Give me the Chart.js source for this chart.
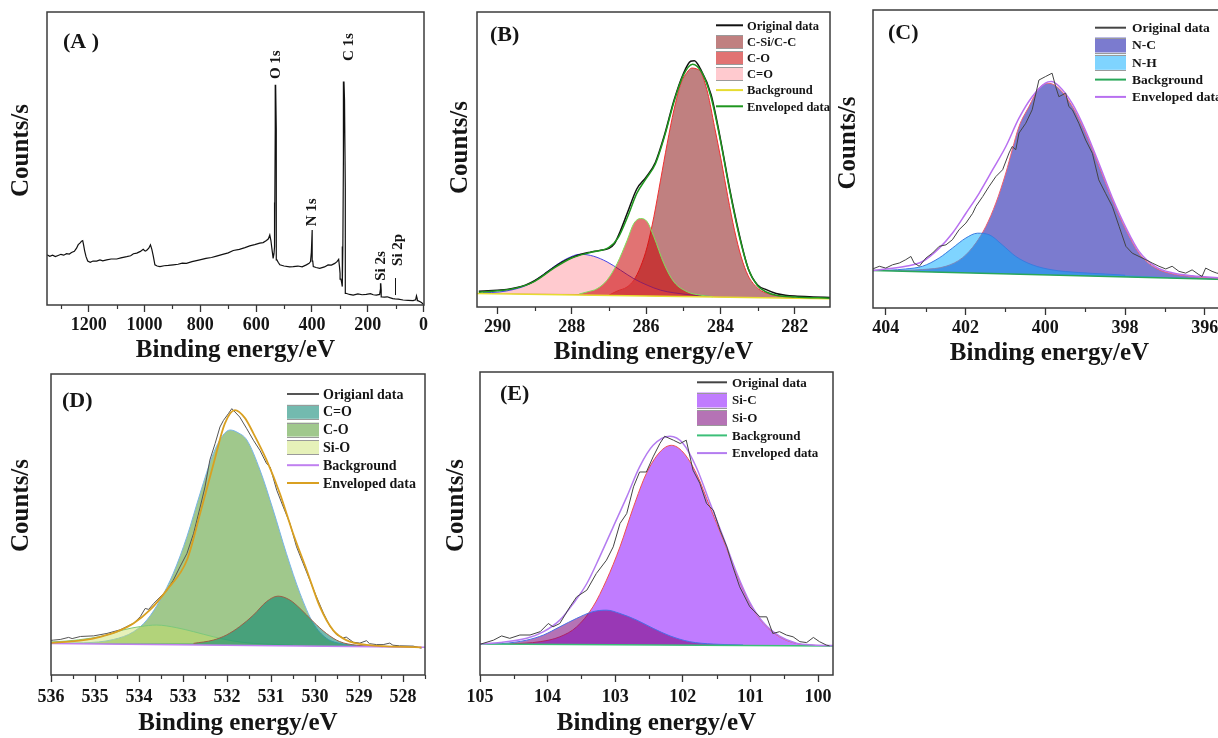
<!DOCTYPE html>
<html>
<head>
<meta charset="utf-8">
<script src="https://cdn.jsdelivr.net/npm/chart.js@4.4.1/dist/chart.umd.min.js"></script>
<style>
  html, body { margin: 0; padding: 0; background: #fff; overflow: hidden; width: 1218px; height: 738px; }
  canvas { position: absolute; }
</style>
</head>
<body>
<script>
// ---- (A) survey spectrum: [binding energy eV, counts (relative)]
const surveyCounts = [
  [1350,17.1],[1340,16.6],[1330,17.0],[1320,16.5],[1310,16.9],[1300,17.3],[1290,17.0],[1280,17.5],[1270,17.4],
  [1262,17.9],[1252,18.3],[1244,19.4],[1238,20.6],[1232,21.1],[1226,21.8],[1222,22.0],[1219,20.6],[1215,18.5],
  [1210,16.5],[1204,15.0],[1195,14.6],[1185,15.0],[1172,15.0],[1160,15.4],[1150,15.1],[1136,15.4],[1120,15.7],
  [1100,15.7],[1085,16.1],[1064,16.5],[1050,16.8],[1040,17.5],[1028,17.7],[1015,18.3],[1005,19.0],[998,18.4],
  [993,18.6],[985,19.4],[979,20.5],[974,19.0],[969,16.8],[963,13.7],[955,13.3],[945,13.1],[930,13.4],[915,13.5],
  [897,13.7],[880,13.9],[865,14.3],[850,14.2],[830,14.8],[802,15.4],[780,15.9],[760,16.2],[742,16.7],[720,17.3],
  [700,17.8],[682,18.6],[660,19.0],[640,19.6],[623,20.2],[605,20.6],[587,21.1],[575,21.3],[563,22.0],[556,22.6],
  [551,23.9],[547,22.0],[543,18.9],[539,15.9],[536,17.5],[534,19.9],[533,35],[531.5,60],[530,75.2],[528.5,60],
  [527,35],[525.5,15.4],[521,14.6],[515,13.7],[500,13.3],[480,13.0],[467,13.1],[450,13.3],[435,13.0],[420,13.7],
  [410,14.2],[405,14.8],[402,18],[399,25.6],[397,15],[395,13.1],[385,12.8],[372,12.5],[355,13.0],[342,13.7],
  [330,13.6],[318,14.2],[310,14.8],[304,15.6],[301,13.0],[299,10.8],[296,8.8],[294,8.0],[291,6.3],[289,20],
  [287,50],[285,76.3],[283,70],[281,40],[279.5,10],[278,4.0],[265,3.6],[252,3.4],[235,3.8],[220,3.5],[205,3.6],
  [190,3.9],[180,3.5],[169,3.4],[157,3.6],[154,5.5],[153,7.4],[151.5,5],[150,2.8],[140,2.7],[130,2.8],[121,2.5],
  [110,2.2],[102,2.1],[90,2.0],[73,1.7],[55,1.6],[37,1.5],[28,1.8],[25,3.1],[22,2.0],[20,1.5],[10,1.0],[4,0.6],[-1,0.1]
];
const surveyPeaks = ['O 1s', 'N 1s', 'C 1s', 'Si 2s', 'Si 2p'];
const surveyPeakEnergy = [527, 400, 267, 152, 91];

// ---- (B) C 1s
const c1sOriginal = [
  [290.5,5.3],[290.25,5.5],[290.0,5.7],[289.75,5.9],[289.5,6.5],[289.25,7.4],[289.0,8.9],[288.75,11.0],[288.5,13.3],
  [288.25,15.3],[288.0,16.8],[287.75,17.9],[287.5,18.6],[287.25,19.2],[287.0,19.9],[286.85,21.5],[286.7,25.5],
  [286.5,32.0],[286.25,40.0],[286.0,44.0],[285.75,49.0],[285.5,58.5],[285.25,70.0],[285.0,79.0],[284.8,83.3],
  [284.7,83.5],[284.55,81.0],[284.25,72.0],[284.0,57.0],[283.75,40.0],[283.5,25.0],[283.25,13.0],[283.0,7.5],
  [282.75,5.8],[282.5,4.6],[282.25,4.0],[282.0,3.7],[281.5,3.4],[281.05,3.2]
];
const c1sCC = [
  [287.0,4.0],[286.78,5.4],[286.51,6.8],[286.33,9.1],[286.15,13.6],[285.97,20.4],[285.79,30.6],[285.61,43.0],
  [285.43,55.5],[285.25,66.8],[285.06,75.9],[284.9,79.5],[284.77,81.0],[284.6,80.5],[284.53,79.8],[284.34,72.5],
  [284.16,61.2],[283.98,49.8],[283.80,37.4],[283.62,26.0],[283.44,17.0],[283.26,10.8],[282.98,6.2],[282.71,4.5],
  [282.35,3.6],[282.0,3.1]
];
const c1sCO = [
  [287.8,4.4],[287.59,5.1],[287.32,6.2],[287.05,9.1],[286.78,14.7],[286.51,22.6],[286.33,28.3],[286.15,30.0],
  [285.97,28.9],[285.79,23.8],[285.52,14.7],[285.25,8.5],[284.88,5.1],[284.53,4.0],[284.2,3.5]
];
const c1sCdO = [
  [290.39,4.8],[289.94,5.1],[289.58,5.9],[289.21,7.4],[288.85,10.2],[288.49,13.6],[288.13,16.4],[287.77,17.9],
  [287.41,17.2],[287.05,15.3],[286.69,12.5],[286.33,9.6],[285.97,7.4],[285.61,5.7],[285.25,4.8],[284.71,4.0],[284.2,3.5]
];
const c1sBackground = [[290.55,4.6],[281.05,2.8]];
const c1sEnvelope = [
  [290.5,5.0],[290.0,5.5],[289.5,6.4],[289.0,8.7],[288.5,13.0],[288.0,16.6],[287.5,18.5],[287.0,20.2],[286.75,23.5],
  [286.5,30.5],[286.25,38.5],[286.0,43.5],[285.75,48.5],[285.5,58.0],[285.25,69.5],[285.0,78.5],[284.75,82.3],
  [284.5,79.5],[284.25,71.0],[284.0,56.5],[283.75,39.5],[283.5,24.5],[283.25,13.0],[283.0,7.2],[282.75,5.0],
  [282.5,4.0],[282.0,3.4],[281.05,3.0]
];

// ---- (C) N 1s
const n1sOriginal = [
  [404.33,13.1],[404.16,14.0],[404.0,13.4],[403.83,14.5],[403.66,15.1],[403.50,16.2],[403.37,17.3],[403.29,15.1],
  [403.16,14.0],[402.99,16.8],[402.83,18.4],[402.66,20.7],[402.49,21.2],[402.33,22.9],[402.16,26.3],[401.99,28.5],
  [401.82,31.8],[401.74,34.1],[401.57,37.4],[401.41,40.8],[401.24,44.1],[401.07,46.4],[400.91,52.0],[400.83,54.2],
  [400.74,53.1],[400.66,58.7],[400.49,62.0],[400.33,66.5],[400.16,76.5],[399.99,77.7],[399.83,78.8],[399.74,74.3],
  [399.66,70.9],[399.49,72.1],[399.41,67.6],[399.32,66.5],[399.16,62.0],[398.99,56.4],[398.82,51.9],[398.66,43.0],
  [398.49,38.5],[398.32,34.1],[398.15,27.4],[397.98,20.7],[397.82,18.4],[397.65,17.3],[397.48,16.2],[397.32,15.1],
  [397.15,14.0],[396.98,13.1],[396.82,14.0],[396.65,12.3],[396.48,11.7],[396.32,12.8],[396.15,11.2],[396.07,10.6],
  [395.98,13.4],[395.82,12.3],[395.70,11.7],[395.5,11.3]
];
const n1sNC = [
  [404.3,12.6],[403.91,12.6],[403.08,12.9],[402.49,14.0],[402.08,16.8],[401.74,21.8],[401.49,27.4],[401.24,35.2],
  [400.99,45.3],[400.83,53.1],[400.66,60.9],[400.41,67.6],[400.16,73.7],[399.91,75.4],[399.66,73.7],[399.32,67.6],
  [398.99,58.7],[398.65,47.5],[398.32,36.3],[397.98,26.3],[397.65,18.4],[397.23,13.4],[396.82,11.5],[396.32,10.6],[395.47,9.8]
];
const n1sNH = [
  [404.2,12.6],[403.91,12.7],[403.50,13.1],[403.08,14.0],[402.66,16.8],[402.33,20.1],[401.99,23.5],[401.7,25.1],
  [401.41,24.6],[401.08,21.2],[400.74,17.3],[400.33,14.5],[399.83,12.8],[399.16,11.9],[398.49,11.4],[398.0,11.0]
];
const n1sBackground = [[404.32,12.6],[395.47,9.6]];
const n1sEnvelope = [
  [404.33,12.6],[403.5,14.0],[403.08,15.6],[402.66,20.1],[402.33,25.1],[401.99,31.8],[401.66,38.5],[401.32,46.4],
  [400.99,54.2],[400.66,63.7],[400.33,70.9],[400.0,75.5],[399.85,76.0],[399.66,74.5],[399.32,68.5],[398.99,59.5],
  [398.65,48.3],[398.32,37.0],[397.98,27.0],[397.65,19.0],[397.23,13.8],[396.82,11.8],[396.32,10.8],[395.47,10.0]
];

// ---- (D) O 1s
const o1sOriginal = [
  [536.0,11.5],[535.94,11.6],[535.79,11.8],[535.60,12.5],[535.52,12.1],[535.33,12.8],[535.03,13.0],[534.73,13.8],
  [534.43,15.0],[534.12,17.2],[533.97,19.4],[533.86,22.1],[533.78,21.8],[533.67,23.7],[533.52,25.9],[533.37,28.1],
  [533.22,31.5],[533.07,35.9],[532.91,40.4],[532.76,47.0],[532.61,55.8],[532.50,62.5],[532.39,71.4],[532.27,76.9],
  [532.16,82.4],[532.08,84.6],[531.97,86.8],[531.89,88.5],[531.82,87.4],[531.71,85.7],[531.55,81.8],[531.40,78.0],
  [531.25,74.6],[531.10,70.2],[531.02,69.1],[530.87,61.4],[530.72,55.8],[530.57,50.4],[530.42,42.6],[530.27,37.1],
  [530.12,31.6],[529.97,26.1],[529.81,20.6],[529.66,16.2],[529.51,13.4],[529.36,12.3],[529.29,12.6],[529.13,10.9],
  [528.98,10.6],[528.83,11.4],[528.76,10.4],[528.60,10.1],[528.45,10.1],[528.30,10.6],[528.23,9.9],[528.08,9.7],
  [527.77,9.6],[527.58,8.9]
];
const o1sCdO = [
  [532.76,10.5],[532.31,11.6],[532.01,13.3],[531.71,16.1],[531.40,19.9],[531.10,24.4],[530.84,26.2],[530.57,24.9],
  [530.34,22.1],[530.04,17.7],[529.74,13.8],[529.44,11.1],[529.06,9.9],[528.45,9.4]
];
const o1sCO = [
  [536.0,10.6],[535.26,10.7],[534.58,11.8],[534.12,14.4],[533.82,18.3],[533.52,24.9],[533.22,33.8],[532.91,46.0],
  [532.61,60.4],[532.31,73.6],[532.1,79.5],[531.93,81.4],[531.75,80.5],[531.55,78.1],[531.25,68.1],[530.95,54.8],
  [530.65,40.4],[530.34,27.1],[530.04,17.2],[529.74,12.2],[529.36,10.3],[528.83,9.7],[528.3,9.4]
];
const o1sSiO = [
  [536.0,11.0],[535.64,11.3],[535.11,12.2],[534.73,13.3],[534.35,15.0],[533.97,16.1],[533.60,16.6],[533.14,15.7],
  [532.76,14.4],[532.31,12.7],[531.86,11.3],[531.40,10.5],[530.95,10.2],[530.5,9.9]
];
const o1sBackground = [[536.0,10.5],[527.5,9.2]];
const o1sEnvelope = [
  [536.0,10.7],[535.26,11.6],[534.88,12.7],[534.50,14.4],[534.12,17.2],[533.75,21.6],[533.37,28.2],[532.91,38.2],
  [532.61,53.7],[532.3,70.5],[532.05,83.5],[531.82,88.0],[531.6,85.5],[531.40,80.3],[531.10,71.4],[530.80,60.4],
  [530.50,47.1],[530.19,34.9],[529.89,22.7],[529.59,14.9],[529.29,11.6],[528.83,10.0],[527.58,9.2]
];

// ---- (E) Si 2p
const si2pOriginal = [
  [104.99,10.2],[104.80,11.5],[104.68,12.9],[104.56,12.1],[104.41,13.2],[104.26,13.2],[104.11,14.3],[103.99,17.0],
  [103.92,15.9],[103.82,17.0],[103.67,22.5],[103.57,25.8],[103.42,28.0],[103.28,33.5],[103.13,37.9],[103.03,42.3],
  [102.93,50.0],[102.83,53.3],[102.73,62.1],[102.64,67.0],[102.54,67.0],[102.44,72.0],[102.34,76.4],[102.27,78.8],
  [102.14,77.5],[102.04,76.4],[101.95,77.5],[101.85,67.6],[101.75,63.3],[101.65,56.6],[101.55,54.4],[101.45,47.8],
  [101.35,42.3],[101.26,35.7],[101.16,29.1],[101.01,22.5],[100.86,19.2],[100.76,19.2],[100.67,13.7],[100.57,14.3],
  [100.47,13.2],[100.37,12.6],[100.27,11.0],[100.17,10.7],[100.07,12.4],[99.98,11.0],[99.88,9.9],[99.83,9.6]
];
const si2pSiC = [
  [104.56,10.2],[104.11,11.0],[103.82,12.6],[103.57,15.9],[103.33,22.5],[103.13,31.3],[102.93,42.3],[102.73,55.5],
  [102.54,66.5],[102.34,73.6],[102.17,75.8],[102.0,73.6],[101.80,66.5],[101.60,55.5],[101.40,44.5],[101.21,33.5],
  [101.01,23.6],[100.81,17.0],[100.57,12.6],[100.32,10.4],[100.07,9.8],[99.85,9.65]
];
const si2pSiO = [
  [104.9,10.25],[104.66,10.4],[104.31,11.5],[104.06,13.2],[103.82,15.9],[103.57,18.7],[103.33,20.9],[103.13,21.4],
  [102.93,20.3],[102.68,18.1],[102.44,15.4],[102.19,12.9],[101.90,11.0],[101.55,10.2],[101.11,9.9]
];
const si2pBackground = [[105.0,10.2],[99.78,9.6]];
const si2pEnvelope = [
  [105.0,10.3],[104.70,10.7],[104.31,12.1],[104.06,14.3],[103.82,18.1],[103.62,23.6],[103.42,30.2],[103.23,39.0],
  [103.03,48.9],[102.83,58.8],[102.64,68.7],[102.44,75.8],[102.19,78.8],[102.0,76.5],[101.80,68.5],[101.60,56.8],
  [101.40,45.3],[101.21,34.0],[101.01,24.0],[100.81,17.3],[100.57,12.8],[100.32,10.5],[100.07,9.9],[99.78,9.7]
];

const SERIF = '"Liberation Serif", "DejaVu Serif", serif';
const INK = '#151515';

const pts = arr => arr.map(([x, y]) => ({ x, y })).sort((p, q) => p.x - q.x);

function line(label, arr, color, width, order, more) {
  return Object.assign({
    label, data: pts(arr), borderColor: color, backgroundColor: color, borderWidth: width,
    pointRadius: 0, fill: false, tension: 0, order
  }, more || {});
}
function peak(label, arr, fillColor, edge, bgIdx, order) {
  return line(label, arr, edge, 1, order, {
    backgroundColor: fillColor, fill: { target: bgIdx }, swatch: true, cubicInterpolationMode: 'monotone'
  });
}

// frame, axis titles, minor ticks, panel tag, legend, peak labels
const xpsDecor = {
  id: 'xpsDecor',
  afterDraw(chart, args, o) {
    const { ctx, chartArea: a, scales: { x } } = chart;
    ctx.save();
    // minor ticks half-way between labelled ones
    const vals = x.ticks.map(t => t.value);
    const step = Math.abs(vals[1] - vals[0]);
    const lo = Math.min(x.min, x.max), hi = Math.max(x.min, x.max);
    ctx.strokeStyle = '#333';
    ctx.lineWidth = 1.2;
    for (let v = Math.min(...vals) - step / 2; v <= hi; v += step) {
      if (v < lo) continue;
      const px = Math.round(x.getPixelForValue(v)) + 0.5;
      ctx.beginPath(); ctx.moveTo(px, a.bottom); ctx.lineTo(px, a.bottom + 4); ctx.stroke();
    }
    // frame
    ctx.strokeStyle = '#3c3c3c';
    ctx.lineWidth = 1.5;
    ctx.strokeRect(a.left, a.top, a.width, a.height);
    ctx.fillStyle = INK;
    // panel tag
    ctx.font = `bold 22px ${SERIF}`;
    ctx.textAlign = 'left';
    ctx.textBaseline = 'middle';
    ctx.fillText(o.tag, a.left + o.tagX, a.top + o.tagY);
    // axis titles
    ctx.font = `bold 25px ${SERIF}`;
    ctx.textAlign = 'center';
    ctx.fillText('Binding energy/eV', (a.left + a.right) / 2, a.bottom + o.xTitleDy);
    ctx.save();
    ctx.translate(a.left - o.yTitleDx, (a.top + a.bottom) / 2 + o.yTitleDy);
    ctx.rotate(-Math.PI / 2);
    ctx.fillText('Counts/s', 0, 0);
    ctx.restore();
    // survey peak labels
    if (o.peaks) {
      const y = chart.scales.y;
      ctx.font = `bold 15px ${SERIF}`;
      o.peaks.names.forEach((name, i) => {
        ctx.save();
        ctx.translate(x.getPixelForValue(o.peaks.energy[i]), y.getPixelForValue(o.peaks.height[i]));
        ctx.rotate(-Math.PI / 2);
        ctx.fillText(name, 0, 0);
        ctx.restore();
      });
      const m = o.peaks.marker;
      const mx = Math.round(x.getPixelForValue(m.e)) + 0.5;
      ctx.strokeStyle = INK; ctx.lineWidth = 1;
      ctx.beginPath(); ctx.moveTo(mx, y.getPixelForValue(m.v0)); ctx.lineTo(mx, y.getPixelForValue(m.v1)); ctx.stroke();
    }
    // legend
    if (o.legend) {
      const L = o.legend;
      let row = 0;
      ctx.font = `bold ${L.font}px ${SERIF}`;
      ctx.textAlign = 'left';
      chart.data.datasets.forEach(ds => {
        const cy = a.top + L.y + row * L.dy;
        const x0 = a.left + L.x;
        if (ds.swatch) {
          ctx.fillStyle = '#fff';
          ctx.fillRect(x0, cy - L.h / 2, L.w, L.h);
          ctx.fillStyle = ds.backgroundColor;
          ctx.fillRect(x0, cy - L.h / 2, L.w, L.h);
          ctx.strokeStyle = '#9a9a9a'; ctx.lineWidth = 1;
          ctx.beginPath();
          ctx.moveTo(x0, Math.round(cy - L.h / 2) + 0.5); ctx.lineTo(x0 + L.w, Math.round(cy - L.h / 2) + 0.5);
          ctx.moveTo(x0, Math.round(cy + L.h / 2) + 0.5); ctx.lineTo(x0 + L.w, Math.round(cy + L.h / 2) + 0.5);
          ctx.stroke();
        } else {
          ctx.strokeStyle = ds.borderColor; ctx.lineWidth = 2;
          ctx.beginPath(); ctx.moveTo(x0, cy); ctx.lineTo(x0 + L.w, cy); ctx.stroke();
        }
        ctx.fillStyle = INK;
        ctx.fillText(ds.label, x0 + L.w + L.gap, cy + 1);
        row++;
      });
    }
    ctx.restore();
  }
};

function makePanel(p) {
  const padL = 60, padT = 15, padR = 25, padB = 75;
  const cv = document.createElement('canvas');
  cv.width = p.frame.w + padL + padR;
  cv.height = p.frame.h + padT + padB;
  cv.style.left = (p.frame.x - padL) + 'px';
  cv.style.top = (p.frame.y - padT) + 'px';
  document.body.appendChild(cv);
  return new Chart(cv, {
    type: 'line',
    data: { datasets: p.datasets },
    options: {
      responsive: false,
      animation: false,
      devicePixelRatio: 1,
      layout: { padding: { left: padL, top: padT, right: padR, bottom: 0 } },
      scales: {
        x: {
          type: 'linear', reverse: true, min: p.xmin, max: p.xmax,
          afterFit: s => { s.height = padB; },
          border: { display: false },
          grid: { drawOnChartArea: false, drawTicks: true, tickLength: 7, tickWidth: 1.3, tickColor: '#333' },
          ticks: {
            stepSize: p.step, includeBounds: false, autoSkip: false, maxRotation: 0,
            padding: p.tickPad, color: INK, font: { family: SERIF, size: 18, weight: 'bold' },
            callback: v => String(v)
          }
        },
        y: { display: false, min: 0, max: 100 }
      },
      plugins: {
        legend: { display: false },
        tooltip: { enabled: false },
        xpsDecor: p.decor
      }
    },
    plugins: [xpsDecor]
  });
}

// (A)
makePanel({
  frame: { x: 47, y: 12, w: 377, h: 293 }, xmin: -2, xmax: 1350, step: 200, tickPad: 3,
  datasets: [line('Survey', surveyCounts, '#111', 1.2, 1)],
  decor: {
    tag: '(A )', tagX: 16, tagY: 30, xTitleDy: 46, yTitleDx: 25, yTitleDy: -8,
    peaks: { names: surveyPeaks, energy: surveyPeakEnergy, height: [82, 31.6, 88, 13.3, 18.8],
             marker: { e: 102, v0: 3.4, v1: 9.2 } }
  }
});

// (B)
makePanel({
  frame: { x: 477, y: 12, w: 353, h: 295 }, xmin: 281.05, xmax: 290.55, step: 2, tickPad: 3,
  datasets: [
    line('Original data', c1sOriginal, '#111', 1.5, 2, { cubicInterpolationMode: 'monotone' }),
    peak('C-Si/C-C', c1sCC, 'rgb(192,128,128)', '#f03030', 4, 10),
    peak('C-O', c1sCO, 'rgba(200,0,0,0.55)', '#7ee05a', 4, 8),
    peak('C=O', c1sCdO, 'rgba(255,150,160,0.5)', '#4545e6', 4, 9),
    line('Background', c1sBackground, '#e6dc30', 1.5, 3),
    line('Enveloped data', c1sEnvelope, '#1f961f', 1.5, 1, { cubicInterpolationMode: 'monotone' })
  ],
  decor: {
    tag: '(B)', tagX: 13, tagY: 23, xTitleDy: 46, yTitleDx: 16, yTitleDy: -12,
    legend: { x: 239, y: 13.3, dy: 16.2, w: 27, h: 13, font: 12.5, gap: 4 }
  }
});

// (C)
makePanel({
  frame: { x: 873, y: 10, w: 353, h: 298 }, xmin: 395.47, xmax: 404.32, step: 2, tickPad: 3,
  datasets: [
    line('Original data', n1sOriginal, '#444', 1, 1),
    peak('N-C', n1sNC, 'rgb(123,123,207)', '#f06070', 3, 10),
    peak('N-H', n1sNH, 'rgba(0,170,255,0.5)', '#3a7be0', 3, 9),
    line('Background', n1sBackground, '#2aa85a', 1.5, 3),
    line('Enveloped data', n1sEnvelope, '#b870f0', 1.5, 2, { cubicInterpolationMode: 'monotone' })
  ],
  decor: {
    tag: '(C)', tagX: 15, tagY: 23, xTitleDy: 46, yTitleDx: 24, yTitleDy: -16,
    legend: { x: 222, y: 17.7, dy: 17.3, w: 31, h: 15, font: 13.5, gap: 6 }
  }
});

// (D)
makePanel({
  frame: { x: 51, y: 374, w: 374, h: 301 }, xmin: 527.5, xmax: 536, step: 1, tickPad: 5,
  datasets: [
    line('Origianl data', o1sOriginal, '#555', 1, 2),
    peak('C=O', o1sCdO, 'rgba(0,130,110,0.55)', '#9a6048', 4, 8),
    peak('C-O', o1sCO, 'rgb(160,200,140)', '#78b4e6', 4, 10),
    peak('Si-O', o1sSiO, 'rgba(200,225,100,0.45)', '#7cc87c', 4, 9),
    line('Background', o1sBackground, '#c080f0', 1.5, 3),
    line('Enveloped data', o1sEnvelope, '#d9a021', 1.8, 1, { cubicInterpolationMode: 'monotone' })
  ],
  decor: {
    tag: '(D)', tagX: 11, tagY: 27, xTitleDy: 49, yTitleDx: 29, yTitleDy: -19,
    legend: { x: 236, y: 20, dy: 17.8, w: 32, h: 14, font: 14, gap: 4 }
  }
});

// (E)
makePanel({
  frame: { x: 480, y: 372, w: 353, h: 303 }, xmin: 99.78, xmax: 105, step: 1, tickPad: 5,
  datasets: [
    line('Original data', si2pOriginal, '#444', 1, 1),
    peak('Si-C', si2pSiC, 'rgb(192,124,255)', '#f05050', 3, 10),
    peak('Si-O', si2pSiO, 'rgba(120,0,120,0.55)', '#4a6ee6', 3, 9),
    line('Background', si2pBackground, '#3cbf78', 1.5, 3),
    line('Enveloped data', si2pEnvelope, '#b47cf0', 1.5, 2, { cubicInterpolationMode: 'monotone' })
  ],
  decor: {
    tag: '(E)', tagX: 20, tagY: 22, xTitleDy: 49, yTitleDx: 23, yTitleDy: -18,
    legend: { x: 217, y: 10.3, dy: 17.7, w: 30, h: 15, font: 13, gap: 5 }
  }
});
</script>
</body>
</html>
